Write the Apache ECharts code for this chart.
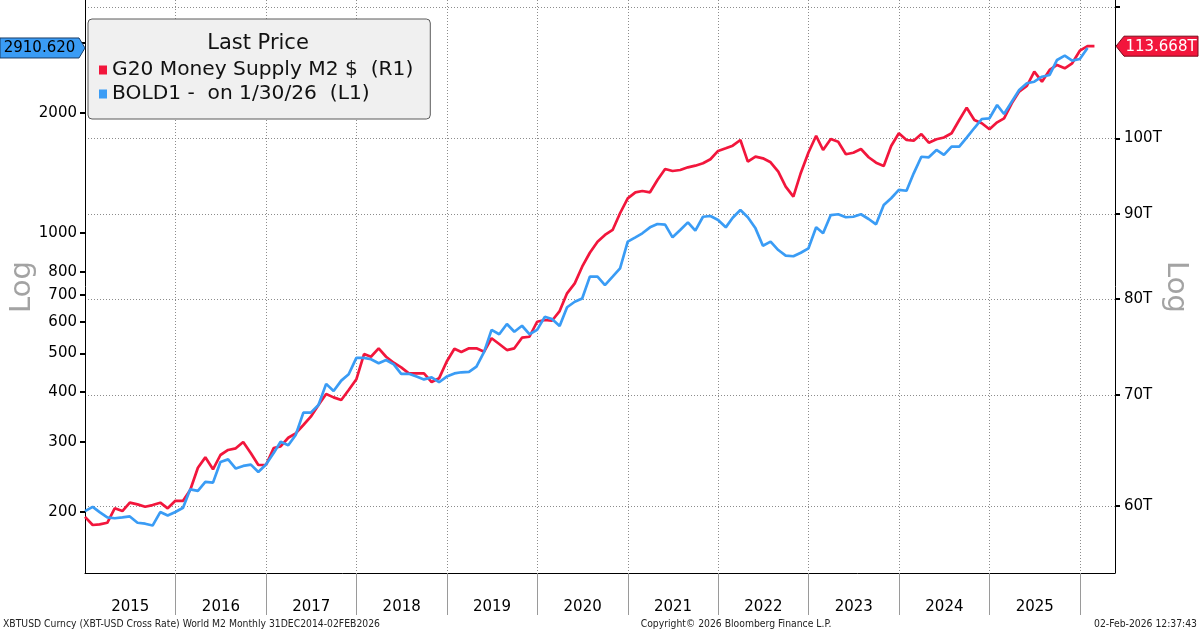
<!DOCTYPE html>
<html>
<head>
<meta charset="utf-8">
<script src="https://cdn.jsdelivr.net/npm/echarts@6.0.0/dist/echarts.min.js"></script>
<style>
html,body{margin:0;padding:0;background:#fff;}
#chart{width:1200px;height:629px;}
</style>
</head>
<body>
<div id="chart"></div>
<script>
// ---------- data ----------
const seriesNames = ['G20 Money Supply M2 $  (R1)', 'BOLD1 -  on 1/30/26  (L1)'];
// monthly observations, first one is end of Dec 2014
const firstYear = 2014, firstMonthIndex = 11;
// G20 Money Supply M2, USD trillions (right axis)
const m2Values = [
  59.11, 58.44, 58.49, 58.62, 59.81, 59.58, 60.28, 60.14, 59.94, 60.08,
  60.28, 59.81, 60.44, 60.44, 61.35, 63.28, 64.20, 63.14, 64.41, 64.86,
  65.01, 65.58, 64.56, 63.52, 63.52, 65.04, 65.19, 65.97, 66.38, 67.15,
  67.93, 69.04, 70.10, 69.78, 69.52, 70.50, 71.55, 74.11, 73.83, 74.70,
  73.83, 73.22, 72.75, 72.15, 72.15, 72.15, 71.28, 71.65, 73.34, 74.65,
  74.32, 74.70, 74.70, 74.35, 75.75, 75.15, 74.52, 74.70, 75.81, 75.91,
  77.51, 77.70, 77.62, 78.67, 80.63, 81.76, 83.67, 85.31, 86.63, 87.44,
  88.05, 90.12, 92.01, 92.78, 92.95, 92.78, 94.38, 95.84, 95.57, 95.70,
  96.06, 96.28, 96.60, 97.14, 98.27, 98.63, 98.99, 99.78, 96.82, 97.49,
  97.27, 96.73, 95.48, 93.51, 92.22, 95.31, 98.06, 100.36, 98.40, 99.92,
  99.54, 97.82, 98.03, 98.54, 97.41, 96.68, 96.24, 98.95, 100.71, 99.78,
  99.68, 100.61, 99.41, 99.88, 100.13, 100.71, 102.59, 104.36, 102.59, 102.12,
  101.27, 102.26, 102.83, 105.00, 106.71, 107.55, 109.71, 108.20, 109.97, 110.74,
  110.23, 111.00, 112.96, 113.668, 113.668
];
// BOLD1 (left axis)
const boldValues = [
  201, 206, 200, 194, 193, 194, 195, 188, 187, 185,
  200, 196, 200, 205, 228, 226, 238, 237, 267, 271,
  257, 261, 263, 252, 263, 281, 300, 294, 312, 355,
  355, 371, 419, 402, 427, 443, 487, 487, 483, 472,
  481, 469, 444, 444, 437, 430, 435, 423, 437, 445,
  448, 449, 463, 504, 572, 558, 592, 566, 586, 558,
  572, 617, 609, 585, 652, 673, 686, 778, 778, 741,
  778, 816, 952, 976, 999, 1034, 1054, 1050, 976, 1018,
  1064, 1014, 1099, 1104, 1079, 1034, 1093, 1143, 1096, 1028,
  930, 952, 907, 878, 875, 893, 916, 1034, 999, 1110,
  1115, 1096, 1099, 1115, 1085, 1052, 1176, 1223, 1283, 1277,
  1412, 1554, 1549, 1616, 1570, 1647, 1647, 1736, 1834, 1932,
  1940, 2095, 1989, 2135, 2284, 2374, 2396, 2466, 2491, 2716,
  2784, 2705, 2732, 2910.62
];
const leftTickValues = [200, 300, 400, 500, 600, 700, 800, 1000, 2000, 3000];
const leftLabelValues = [200, 300, 400, 500, 600, 700, 800, 1000, 2000];
const rightTickValues = [60, 70, 80, 90, 100, 120];
const rightLabelValues = [60, 70, 80, 90, 100];
const yearLabels = [2015, 2016, 2017, 2018, 2019, 2020, 2021, 2022, 2023, 2024, 2025];
const yearBoundaryYears = [2016, 2017, 2018, 2019, 2020, 2021, 2022, 2023, 2024, 2025, 2026];
const lastBold = 2910.620;
const lastM2 = 113.668;

// ---------- build ----------
const RED = '#f2163c';
const BLUE = '#3a9cf5';
const FONT = "'DejaVu Sans', Verdana, sans-serif";
const NARROW = "'DejaVu Sans Condensed', 'Liberation Sans Narrow', 'DejaVu Sans', sans-serif";

function monthEnd(i) {
  return Date.UTC(firstYear, firstMonthIndex + i + 1, 0);
}
const m2Data = m2Values.map((v, i) => [monthEnd(i), v]);
const boldData = boldValues.map((v, i) => [monthEnd(i), v]);
const yearBoundaries = yearBoundaryYears.map(y => Date.UTC(y, 0, 1));
const yearMids = yearLabels.map(y => Date.UTC(y, 6, 2));
const xMin = Date.UTC(2014, 11, 31);
const xMax = Date.UTC(2026, 4, 22);

const chart = echarts.init(document.getElementById('chart'), null, {renderer: 'canvas'});

const dotted = {color: '#8c8c8c', width: 1, type: [1, 2]};

chart.setOption({
  animation: false,
  backgroundColor: '#ffffff',
  grid: {left: 85, right: 85, top: 0, bottom: 56, containLabel: false},
  legend: {
    data: seriesNames,
    orient: 'vertical',
    left: 88,
    top: 19,
    icon: 'rect',
    itemWidth: 8,
    itemHeight: 9,
    itemGap: 4,
    padding: [41, 17, 15, 11],
    backgroundColor: '#f0f0f0',
    borderColor: '#5a5a5a',
    borderWidth: 1,
    borderRadius: 4,
    selectedMode: false,
    textStyle: {fontFamily: FONT, fontSize: 20.2, color: '#111', lineHeight: 20}
  },
  xAxis: {
    type: 'value',
    min: xMin,
    max: xMax,
    axisLine: {show: true, lineStyle: {color: '#000', width: 1}},
    axisTick: {show: true, customValues: yearBoundaries, length: 42, inside: false,
               lineStyle: {color: '#9a9a9a', width: 1}},
    axisLabel: {show: true, customValues: yearMids, margin: 27, fontSize: 15,
                fontFamily: FONT, color: '#000',
                formatter: v => String(new Date(v).getUTCFullYear())},
    splitLine: {show: true, lineStyle: dotted},
    minorTick: {show: false},
    minorSplitLine: {show: false}
  },
  yAxis: [
    {
      type: 'log', logBase: 10, position: 'left',
      min: 140.7, max: 3839,
      axisLine: {show: true, lineStyle: {color: '#000', width: 1}},
      axisTick: {show: true, customValues: leftTickValues, length: 5, inside: false,
                 lineStyle: {color: '#000', width: 2}},
      axisLabel: {show: true, customValues: leftLabelValues, margin: 8, fontSize: 15,
                  fontFamily: FONT, color: '#000', formatter: v => String(Math.round(v))},
      splitLine: {show: false},
      minorTick: {show: false},
      minorSplitLine: {show: false}
    },
    {
      type: 'log', logBase: 10, position: 'right',
      min: 54.67, max: 121.2,
      axisLine: {show: true, lineStyle: {color: '#000', width: 1}},
      axisTick: {show: true, customValues: rightTickValues, length: 5, inside: false,
                 lineStyle: {color: '#000', width: 2}},
      axisLabel: {show: true, customValues: rightLabelValues, margin: 9, fontSize: 15,
                  fontFamily: FONT, color: '#000', formatter: v => Math.round(v) + 'T'},
      splitLine: {show: true, lineStyle: dotted},
      minorTick: {show: false},
      minorSplitLine: {show: false}
    }
  ],
  series: [
    {
      name: seriesNames[0], type: 'line', yAxisIndex: 1, data: m2Data,
      symbol: 'none', showSymbol: false, z: 3,
      lineStyle: {color: RED, width: 2.7}, itemStyle: {color: RED}
    },
    {
      name: seriesNames[1], type: 'line', yAxisIndex: 0, data: boldData,
      symbol: 'none', showSymbol: false, z: 4,
      lineStyle: {color: BLUE, width: 2.7}, itemStyle: {color: BLUE}
    }
  ]
});

// last-value tags positioned through the axes' own scales
const yB = chart.convertToPixel({yAxisIndex: 0}, lastBold);
const yM = chart.convertToPixel({yAxisIndex: 1}, lastM2);
const xL = chart.convertToPixel({xAxisIndex: 0}, xMin);
const xR = chart.convertToPixel({xAxisIndex: 0}, xMax);

chart.setOption({
  graphic: [
    {type: 'text', x: 258, y: 44, z: 100,
     style: {text: 'Last Price', font: "21px " + FONT, fill: '#111', align: 'center', verticalAlign: 'middle'}},
    {type: 'polygon', z: 100,
     shape: {points: [[0, yB - 10], [xL - 6, yB - 10], [xL, yB], [xL - 6, yB + 10], [0, yB + 10]]},
     style: {fill: BLUE, stroke: '#1d3f66', lineWidth: 1}},
    {type: 'text', x: (xL - 6) / 2, y: yB + 0.5, z: 101,
     style: {text: lastBold.toFixed(3), font: "15px " + FONT, fill: '#000', align: 'center', verticalAlign: 'middle'}},
    {type: 'polygon', z: 100,
     shape: {points: [[xR + 1, yM], [xR + 9, yM - 10], [1198, yM - 10], [1198, yM + 10], [xR + 9, yM + 10]]},
     style: {fill: RED, stroke: '#7a0a1c', lineWidth: 1}},
    {type: 'text', x: (xR + 9 + 1198) / 2, y: yM + 0.5, z: 101,
     style: {text: lastM2.toFixed(3) + 'T', font: "15px " + FONT, fill: '#fff', align: 'center', verticalAlign: 'middle'}},
    {type: 'text', x: 22, y: 287, rotation: Math.PI / 2, z: 50,
     style: {text: 'Log', font: "29px " + FONT, fill: '#a3a3a3', align: 'center', verticalAlign: 'middle'}},
    {type: 'text', x: 1176, y: 287, rotation: -Math.PI / 2, z: 50,
     style: {text: 'Log', font: "29px " + FONT, fill: '#a3a3a3', align: 'center', verticalAlign: 'middle'}},
    {type: 'text', x: 3, y: 624, z: 50,
     style: {text: 'XBTUSD Curncy (XBT-USD Cross Rate) World M2 Monthly 31DEC2014-02FEB2026',
             font: "10.3px " + NARROW, fill: '#222', align: 'left', verticalAlign: 'middle'}},
    {type: 'text', x: 736, y: 624, z: 50,
     style: {text: 'Copyright\u00A9 2026 Bloomberg Finance L.P.',
             font: "10.3px " + NARROW, fill: '#222', align: 'center', verticalAlign: 'middle'}},
    {type: 'text', x: 1197, y: 624, z: 50,
     style: {text: '02-Feb-2026 12:37:43',
             font: "10.3px " + NARROW, fill: '#222', align: 'right', verticalAlign: 'middle'}}
  ]
});
</script>
</body>
</html>
